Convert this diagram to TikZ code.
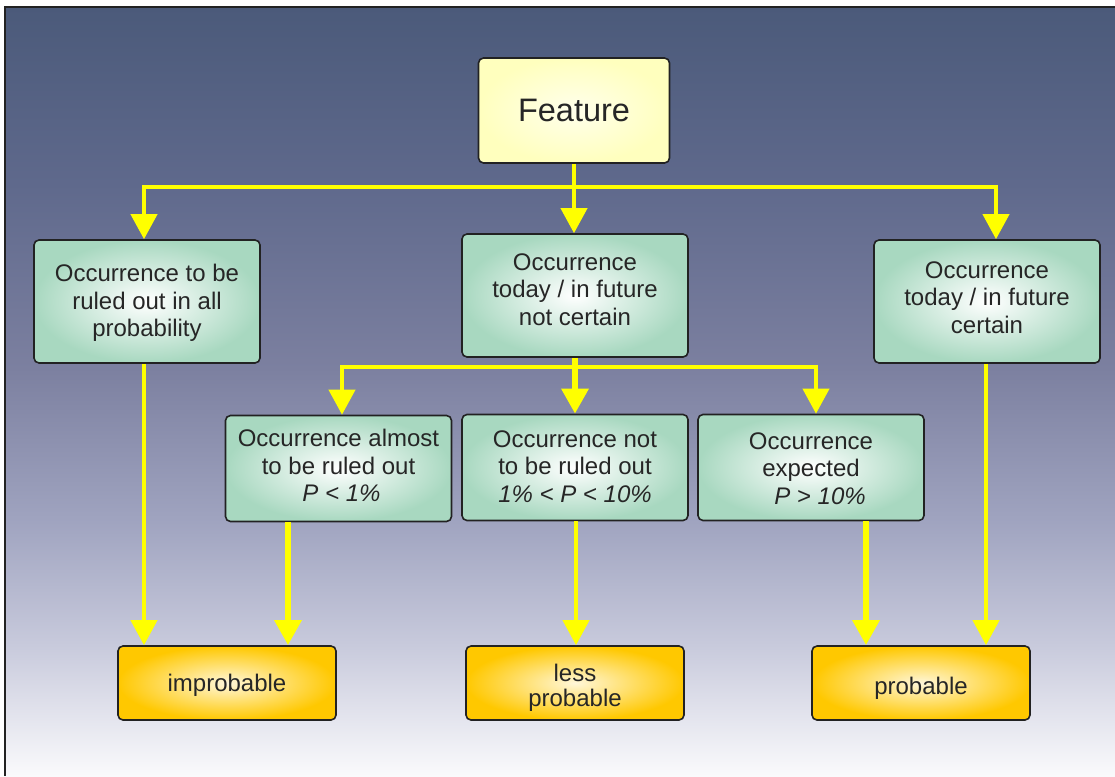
\documentclass[tikz,border=0pt]{standalone}
\usepackage{fontspec}
\setmainfont{Liberation Sans}
\usetikzlibrary{arrows.meta}
\definecolor{bgtop}{RGB}{75,90,122}
\definecolor{bga}{RGB}{95,105,140}
\definecolor{bgb}{RGB}{124,128,160}
\definecolor{bgc}{RGB}{160,164,192}
\definecolor{bgd}{RGB}{200,202,220}
\definecolor{bgbot}{RGB}{250,250,252}
\definecolor{boxgreen}{RGB}{168,216,192}
\definecolor{boxyellow}{RGB}{255,255,190}
\definecolor{boxorange}{RGB}{255,200,0}
\definecolor{boxline}{RGB}{34,34,34}
\definecolor{arrowyellow}{RGB}{255,255,0}
\pgfdeclareverticalshading{bgshade}{100bp}{color(0bp)=(bgbot); color(25bp)=(bgbot); color(33.5bp)=(bgd); color(41.5bp)=(bgc); color(51.5bp)=(bgb); color(63.5bp)=(bga); color(75bp)=(bgtop); color(100bp)=(bgtop)}
\newcommand\tx[2]{\raisebox{#1}[0pt][0pt]{\parbox{212pt}{\centering #2}}}
\tikzset{
  basebox/.style={draw=boxline, line width=1.6pt, rounded corners=5pt, inner sep=0pt, align=center, text=black!85,
    font=\fontsize{24}{27.5}\selectfont},
  greenbox/.style={basebox, shading=radial, inner color=white, outer color=boxgreen, minimum width=226pt, minimum height=123pt},
  smallgreen/.style={greenbox, minimum height=106pt},
  featbox/.style={basebox, shading=radial, inner color=white!70!boxyellow, outer color=boxyellow, minimum width=191pt, minimum height=105pt, font=\fontsize{32.5}{38}\selectfont},
  resbox/.style={basebox, shading=radial, inner color=white!85!boxorange, outer color=boxorange, minimum width=218pt, minimum height=74pt},
  yline/.style={draw=arrowyellow, line width=4pt},
  arr/.style={yline, -{Triangle[width=26pt,length=25pt]}},
  arrthick/.style={arr, line width=6pt},
}
\begin{document}
\begin{tikzpicture}[x=1pt,y=-1pt]
\useasboundingbox (0,0) rectangle (1115,776);
\shade[shading=bgshade] (5,7) rectangle (1115,776);
\draw[boxline, line width=2.5pt] (5,776) -- (5,7) -- (1115,7);

\node[featbox] (feat) at (574,110.5) {Feature};
\node[greenbox] (lbox) at (147,301.5) {\tx{-8pt}{Occurrence to be\\ruled out in all\\probability}};
\node[greenbox] (mbox) at (575,295.5) {\tx{0pt}{Occurrence\\today / in future\\not certain}};
\node[greenbox] (rbox) at (987,301.5) {\tx{-2pt}{Occurrence\\today / in future\\certain}};
\node[smallgreen] (abox) at (338.5,468.5) {\tx{-3.5pt}{Occurrence almost\\to be ruled out\\\hspace*{6pt}\textit{P < 1\%}}};
\node[smallgreen] (bbox) at (575,467.5) {\tx{-5pt}{Occurrence not\\to be ruled out\\\textit{1\% < P < 10\%}}};
\node[smallgreen] (cbox) at (811,467.5) {\tx{-7pt}{Occurrence\\expected\\\hspace*{18pt}\textit{P > 10\%}}};
\node[resbox] (improb) at (227,683) {\tx{-9pt}{improbable}};
\node[resbox] (less) at (575,683) {\tx{-11pt}{less\\[-2.5pt]probable}};
\node[resbox] (prob) at (921,683) {\tx{-12pt}{probable}};

\coordinate (j1) at (574,187);
\draw[yline] (feat.south) -- (j1);
\draw[arr] (j1) -| ([xshift=-3pt]lbox.north);
\draw[arr] (j1) -- (mbox.north -| j1);
\draw[arr] (j1) -| ([xshift=9pt]rbox.north);

\coordinate (j2) at (575,367);
\draw[yline, line width=6pt] (mbox.south) -- (j2);
\draw[arr] (j2) -| ([xshift=3.5pt]abox.north);
\draw[arrthick] (j2) -- (bbox.north);
\draw[arr] (j2) -| ([xshift=5pt]cbox.north);

\draw[arr] ([xshift=-3pt]lbox.south) -- ([xshift=-3pt]lbox.south |- improb.north);
\draw[arrthick] ([xshift=-50.5pt]abox.south) -- ([xshift=-50.5pt]abox.south |- improb.north);
\draw[arr] ([xshift=1pt]bbox.south) -- ([xshift=1pt]bbox.south |- less.north);
\draw[arrthick] ([xshift=55pt]cbox.south) -- ([xshift=55pt]cbox.south |- prob.north);
\draw[arr] ([xshift=-1pt]rbox.south) -- ([xshift=-1pt]rbox.south |- prob.north);
\end{tikzpicture}
\end{document}
